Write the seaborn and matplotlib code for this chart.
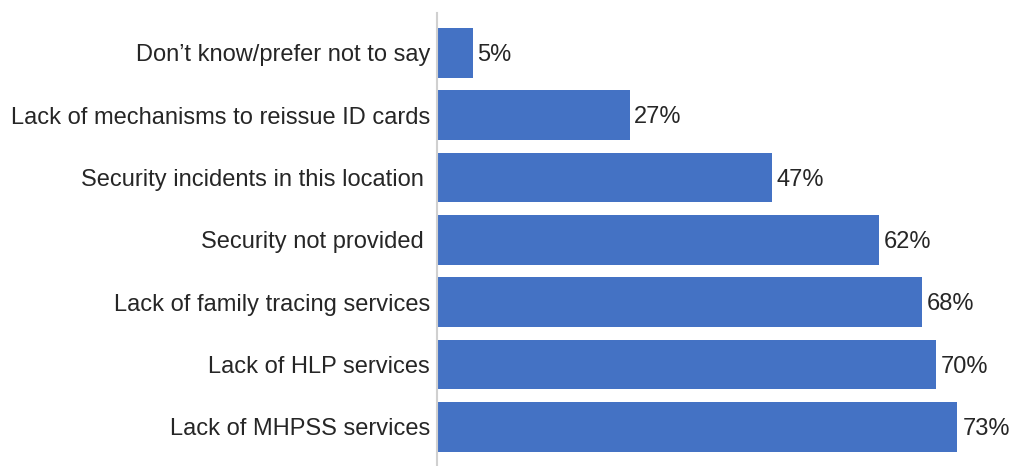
import matplotlib
matplotlib.use("Agg")
import matplotlib.pyplot as plt
import seaborn as sns
import pandas as pd

categories = [
    "Don\u2019t know/prefer not to say",
    "Lack of mechanisms to reissue ID cards",
    "Security incidents in this location ",
    "Security not provided ",
    "Lack of family tracing services",
    "Lack of HLP services",
    "Lack of MHPSS services",
]
values = [5, 27, 47, 62, 68, 70, 73]
value_labels = ["5%", "27%", "47%", "62%", "68%", "70%", "73%"]

sns.set_theme(style="white")
plt.rcParams["font.family"] = ["Liberation Sans", "DejaVu Sans"]

df = pd.DataFrame({"category": categories, "value": values})

fig = plt.figure(figsize=(10.11, 4.66), dpi=100)
ax = fig.add_axes([437 / 1011, 0.0, 1 - 437 / 1011, 1 - 13 / 466])

sns.barplot(data=df, x="value", y="category", color="#4472C4", saturation=1,
            width=0.8, linewidth=0, ax=ax)

ax.set_xlim(0, (1011 - 437) / 7.13)
ax.set_ylim(6.63, -0.64)
ax.set_xlabel("")
ax.set_ylabel("")
ax.set_xticks([])

for i, (v, lab) in enumerate(zip(values, value_labels)):
    ax.annotate(lab, xy=(v, i), xytext=(3.5, -1.5), textcoords="offset points",
                va="center", ha="left", fontsize=17, color="#262626")

ax.tick_params(axis="y", length=0, pad=5, labelsize=17, labelcolor="#262626")
for lbl in ax.get_yticklabels():
    lbl.set_verticalalignment("center_baseline")
for side in ["top", "right", "bottom"]:
    ax.spines[side].set_visible(False)
ax.spines["left"].set_color("#d0d0d0")
ax.spines["left"].set_linewidth(1.5)

fig.savefig("out.png", dpi=100)
